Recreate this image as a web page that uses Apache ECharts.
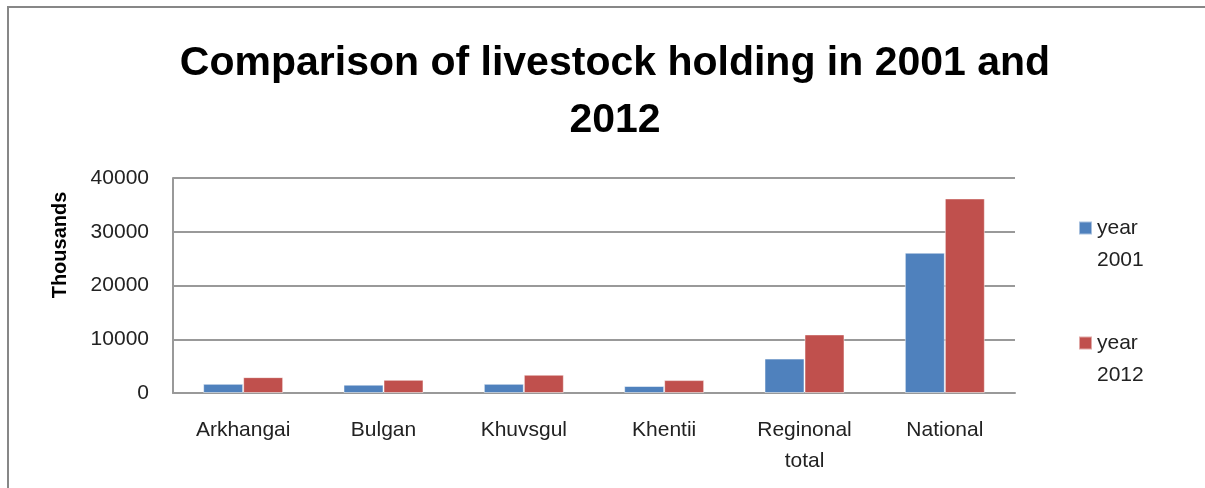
<!DOCTYPE html>
<html>
<head>
<meta charset="utf-8">
<script src="https://cdn.jsdelivr.net/npm/echarts@6/dist/echarts.min.js"></script>
<style>
html,body{margin:0;padding:0;background:#fff;}
#chart{width:1205px;height:488px;}
</style>
</head>
<body>
<div id="chart"></div>
<script>
var categories = ['Arkhangai', 'Bulgan', 'Khuvsgul', 'Khentii', 'Reginonal\ntotal', 'National'];
var year2001 = [1700, 1550, 1700, 1300, 6400, 26100];
var year2012 = [2950, 2450, 3400, 2400, 10900, 36200];
var yTicks = [0, 10000, 20000, 30000, 40000];
var seriesNames = ['year\n2001', 'year\n2012'];

var chart = echarts.init(document.getElementById('chart'), null, {renderer: 'canvas'});
var font = 'Liberation Sans';
chart.setOption({
  animation: false,
  backgroundColor: '#fff',
  title: {
    text: 'Comparison of livestock holding in 2001 and\n2012',
    left: 610, top: 30, textAlign: 'center',
    textStyle: {fontFamily: font, fontWeight: 'bold', fontSize: 41, lineHeight: 57, color: '#000'}
  },
  graphic: [{
    type: 'rect', shape: {x: 8, y: 7, width: 1300, height: 600},
    style: {fill: null, stroke: '#878787', lineWidth: 2}, silent: true
  }, {
    type: 'text', x: 60, y: 245, rotation: Math.PI / 2,
    style: {text: 'Thousands', fontFamily: font, fontWeight: 'bold', fontSize: 20, fill: '#000',
      textAlign: 'center', textVerticalAlign: 'middle'}, silent: true
  }],
  legend: {
    orient: 'vertical', left: 1073, top: 175, itemGap: 19,
    itemWidth: 13, itemHeight: 13, icon: 'rect',
    formatter: function (name) { return '\u00a0\n' + name; },
    textStyle: {fontFamily: font, fontSize: 21, color: '#222', lineHeight: 32}
  },
  grid: {left: 173, right: 190, top: 178, bottom: 95, containLabel: false},
  xAxis: {
    type: 'category', data: categories,
    axisLine: {lineStyle: {color: '#999', width: 2}},
    axisTick: {show: false},
    axisLabel: {fontFamily: font, fontSize: 21, color: '#222', margin: 22, lineHeight: 31, interval: 0}
  },
  yAxis: {
    type: 'value', min: 0, max: 40000, interval: 10000,
    axisLine: {show: true, lineStyle: {color: '#999', width: 2}},
    axisTick: {show: false},
    splitLine: {lineStyle: {color: '#999', width: 2}},
    axisLabel: {fontFamily: font, fontSize: 21, color: '#222', margin: 24,
      formatter: function (v) { return yTicks.indexOf(v) >= 0 ? String(v) : ''; }}
  },
  series: [
    {name: seriesNames[0], type: 'bar', data: year2001, barGap: '0%', barCategoryGap: '43%',
     itemStyle: {color: '#4F81BD', borderColor: 'rgba(255,255,255,0.5)', borderWidth: 1}},
    {name: seriesNames[1], type: 'bar', data: year2012, barGap: '0%', barCategoryGap: '43%',
     itemStyle: {color: '#C0504D', borderColor: 'rgba(255,255,255,0.5)', borderWidth: 1}}
  ]
});
</script>
</body>
</html>
